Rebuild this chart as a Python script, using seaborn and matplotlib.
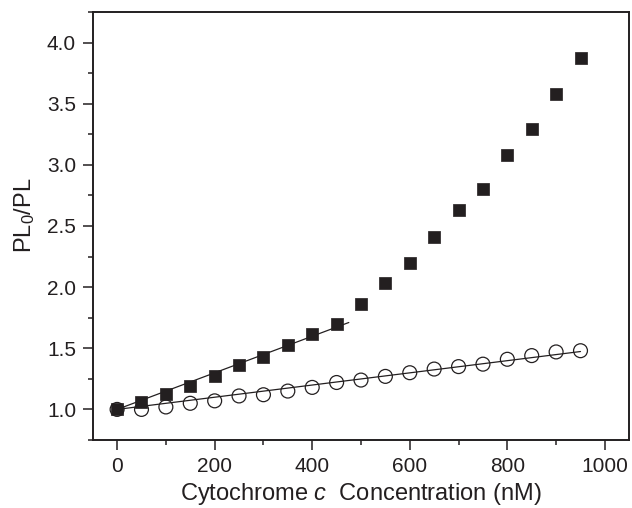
import numpy as np
import pandas as pd
import seaborn as sns
import matplotlib.pyplot as plt
from matplotlib.ticker import MultipleLocator

# concentration of cytochrome c (nM)
conc = [0, 50, 100, 150, 200, 250, 300, 350, 400, 450,
        500, 550, 600, 650, 700, 750, 800, 850, 900, 950]
# PL0/PL, filled squares
ratio_sq = [1.00, 1.06, 1.13, 1.19, 1.27, 1.36, 1.43, 1.53, 1.62, 1.70,
            1.86, 2.03, 2.20, 2.41, 2.63, 2.80, 3.08, 3.29, 3.58, 3.87]
# PL0/PL, open circles
ratio_ci = [1.00, 1.00, 1.02, 1.05, 1.07, 1.11, 1.12, 1.15, 1.18, 1.22,
            1.24, 1.27, 1.30, 1.33, 1.35, 1.37, 1.41, 1.44, 1.47, 1.48]

sq = pd.DataFrame({'conc': conc, 'ratio': ratio_sq})
ci = pd.DataFrame({'conc': conc, 'ratio': ratio_ci})

sns.set_style("ticks")
plt.rcParams['font.family'] = ['Liberation Sans', 'DejaVu Sans']
plt.rcParams['mathtext.fontset'] = 'custom'
plt.rcParams['mathtext.rm'] = 'Liberation Sans'
plt.rcParams['mathtext.it'] = 'Liberation Sans:italic'

ink = '#231f20'

fig = plt.figure(figsize=(6.32, 5.08), dpi=100)
ax = fig.add_axes([0.1467, 0.1339, 0.849, 0.8425])


def sv_slope(df):
    # Stern-Volmer fit, intercept fixed at 1
    x = df['conc'].to_numpy(float)
    y = df['ratio'].to_numpy(float) - 1
    return (x * y).sum() / (x * x).sum()


k1 = sv_slope(sq[sq['conc'] <= 450])
fit_sq = pd.DataFrame({'conc': [0, 475]})
fit_sq['ratio'] = 1 + k1 * fit_sq['conc']
k2 = sv_slope(ci)
fit_ci = pd.DataFrame({'conc': [0, 950]})
fit_ci['ratio'] = 1 + k2 * fit_ci['conc']

sns.lineplot(data=fit_sq, x='conc', y='ratio', color=ink, lw=0.9, ax=ax)
sns.lineplot(data=fit_ci, x='conc', y='ratio', color=ink, lw=0.9, ax=ax)

sns.scatterplot(data=sq, x='conc', y='ratio', marker='s', s=85,
                color=ink, edgecolor=ink, linewidth=0.5, ax=ax, zorder=3)
sns.scatterplot(data=ci, x='conc', y='ratio', marker='o', s=100,
                facecolor='none', edgecolor=ink, linewidth=0.9, ax=ax, zorder=3)

ax.set_xlim(-50, 1050)
ax.set_ylim(0.75, 4.25)
ax.xaxis.set_major_locator(MultipleLocator(200))
ax.xaxis.set_minor_locator(MultipleLocator(100))
ax.yaxis.set_major_locator(MultipleLocator(0.5))
ax.yaxis.set_minor_locator(MultipleLocator(0.25))
ax.yaxis.set_major_formatter(plt.FormatStrFormatter('%.1f'))

for sp in ax.spines.values():
    sp.set_visible(True)
    sp.set_linewidth(1.4)
    sp.set_color(ink)
ax.tick_params(which='major', length=7, width=1.1, color=ink,
               labelsize=15, labelcolor=ink, pad=5)
ax.tick_params(which='minor', length=3.5, width=1.1, color=ink)

ax.set_xlabel('Cytochrome $c$  Concentration (nM)', fontsize=17,
              color=ink, labelpad=4)
ax.set_ylabel('PL$_0$/PL', fontsize=17, color=ink)
ax.yaxis.set_label_coords(-0.103, 0.525)

fig.savefig('out.png', dpi=100)
